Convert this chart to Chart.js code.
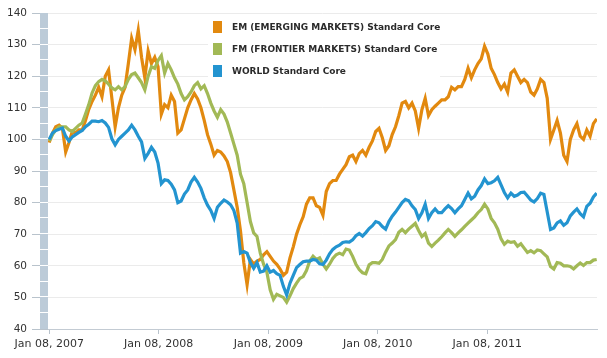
<!DOCTYPE html>
<html><head><meta charset="utf-8">
<script src="https://cdn.jsdelivr.net/npm/chart.js@4/dist/chart.umd.min.js"></script>
<style>
html,body{margin:0;padding:0;background:#fff;}
#wrap{position:relative;width:607px;height:358px;}
canvas{position:absolute;left:0;top:0;}
#legend{position:absolute;left:208px;top:15px;width:232px;height:68px;background:#fff;font:bold 9px "DejaVu Sans",sans-serif;color:#2b2b2b;}
.item{position:absolute;left:5px;height:12px;line-height:12px;white-space:nowrap;}
.sw{position:absolute;left:0;top:0;width:9px;height:12px;}
.lbl{position:absolute;left:19px;top:0;}
</style></head>
<body>
<div id="wrap">
<canvas id="c" width="607" height="358"></canvas>
<div id="legend"></div>
</div>
<script>
// ---- data ----
const seriesNames = ['EM (EMERGING MARKETS) Standard Core','FM (FRONTIER MARKETS) Standard Core','WORLD Standard Core'];
const seriesColors = ['#e2890f','#a2b956','#2394d0'];
const tickLabels = ['Jan 08, 2007','Jan 08, 2008','Jan 08, 2009','Jan 08, 2010','Jan 08, 2011'];
const tickDays = [0,365,731,1096,1461];   // days after Jan 08, 2007
const sampleStepDays = 11;                // one reading every 11 days, starting Jan 08, 2007

const em = [99,102,104,104.5,103.5,96,99,102.5,102,103,
 103,106,109.5,112,114,116.5,113.5,120,122,113,
 104,110,114,116.5,124,132,128.4,134.5,126,119.5,
 128,124,126,123,108,111,110,114,112,102,
 103,106.5,110,112.5,114.5,112.8,110,106,101.5,98.5,
 95,96.5,96,94.8,93,89.5,84,78.5,71,61,
 54,62,60.5,61.5,62,63.5,64.5,63,61.5,60.5,
 59,57,58,62.5,66,70,73,75.5,79.5,81.5,
 81.5,79,78.5,76,83.5,86,87,87,89,90.5,
 92,94.5,95,93,95.5,96.5,95,97.5,99.5,102.5,
 103.5,100.5,96.5,98,101.5,104,107.5,111.5,112,110,
 111.5,109,103.5,109.4,113,107.5,109.4,110.5,111.5,112.5,
 112.5,113.5,116.5,115.7,116.7,116.7,119,122.5,119.5,122,
 124,125.5,129.5,127,122.5,120.5,118,116,117.5,115,
 121,122,120,118,119,118,115,114,116,119,
 118,113,100,103,106,102,95,93,100,103,
 105,101,100,103,101,105,106.5];

const fm = [99.5,101.5,103,104,104,104,103,102.5,103.5,104.5,
 105.2,108,111,114.7,117,118.3,119,118.5,117.5,116.3,
 115.7,116.7,115.7,116.7,119,120.5,121,119.5,118,115.7,
 120,123,122.5,125,126.5,121,124,122,119.5,117.5,
 114.5,112.5,113.5,115,117,118,116,117,114.5,111.5,
 109,107,109.4,108,105.5,102,98.5,95,89,86,
 80,74,70.4,69.3,64,60.5,58,52.4,49.4,51,
 50.5,50,48.5,50.5,52.8,54.5,56,56.6,58.5,61.5,
 63,62,62.5,60.5,59,60.5,62.3,63.5,64,63.5,
 65.3,65,63,60.5,58.8,57.8,57.5,60.3,61,61,
 60.8,62,64.3,66.3,67.2,68.3,70.6,71.5,70.5,71.6,
 72.5,73.4,71.2,69.3,70.2,67.2,66.1,67.2,68.1,69.2,
 70.4,71.5,70.5,69.3,70.4,71.4,72.5,73.5,74.5,75.5,
 76.8,77.8,79.5,78,75,73.6,71.6,68.5,66.8,67.8,
 67.4,67.6,66.2,67,65.6,64.2,64.8,64.1,65,64.8,
 63.8,62.8,59.8,59,61,60.8,60,60,59.8,59,
 60,60.9,60.1,61,61,61.8,62];

const world = [100,102,102.8,103.2,103.6,101,99.5,100.8,101.5,102.2,
 102.8,104,104.8,105.8,105.8,105.6,106,105.2,103.8,100.2,
 98.3,100,101,102,103,104.5,103,101,99.2,94,
 95.6,97.5,96,92.5,86,87.2,87,85.8,84,80,
 80.5,82.7,84,86.5,88,86.5,84.5,81.5,79.2,77.5,
 75,78.5,79.8,80.8,80.2,79.3,77.5,73.5,64,64.5,
 64,61,59.2,61,58,58.3,60,58,58.5,57.5,
 57,53.5,50.8,54.5,57,59.4,60.4,61.3,61.5,61.5,
 62,61.8,60.6,60.4,61.8,63.8,65.2,66,66.5,67.4,
 67.6,67.5,68.2,69.5,70.2,69.4,70.5,71.8,72.7,74,
 73.6,72.4,71.6,74,75.7,77,78.5,80,81,80.6,
 79,77.8,75,76.8,79.5,75,76.8,78,76.8,76.8,
 78,79,78.1,76.8,78,79,81,83,81.2,82,
 84,85.4,87.5,86,86.3,86.9,88,85.6,83.2,81.5,
 83,82,82.4,83.2,83.3,82.1,80.8,80.2,81.3,83,
 82.6,77,71.5,72,73.6,74.2,72.8,73.6,75.8,77,
 78,76.5,75.5,78.8,79.8,81.8,83];

const seriesValues = [em, fm, world];
const days = em.map((_, i) => i * sampleStepDays);

// ---- legend (real text) ----
const legend = document.getElementById('legend');
seriesNames.forEach((n, i) => {
  const it = document.createElement('div');
  it.className = 'item';
  it.style.top = (6 + i * 22) + 'px';
  it.innerHTML = '<div class="sw" style="background:' + seriesColors[i] + '"></div><div class="lbl"></div>';
  it.querySelector('.lbl').textContent = n;
  legend.appendChild(it);
});

// ---- left segmented band ----
const bandPlugin = {
  id: 'band',
  afterDraw(c) {
    const y = c.scales.y, ctx = c.ctx, ca = c.chartArea;
    const top = y.getPixelForValue(y.max), bot = y.getPixelForValue(y.min);
    ctx.save();
    ctx.fillStyle = '#bccbd8';
    ctx.fillRect(ca.left - 8, top, 8, bot - top);
    ctx.fillStyle = '#ffffff';
    for (let v = y.min + 5; v < y.max; v += 5) {
      const p = Math.round(y.getPixelForValue(v));
      ctx.fillRect(ca.left - 8, p - 1, 8, 1);
    }
    ctx.restore();
  }
};

new Chart(document.getElementById('c'), {
  type: 'line',
  data: {
    datasets: seriesValues.map((vals, s) => ({
      label: seriesNames[s],
      data: vals.map((v, i) => ({ x: days[i], y: v })),
      borderColor: seriesColors[s],
      backgroundColor: seriesColors[s],
      borderWidth: 3.2,
      pointRadius: 0,
      tension: 0,
      fill: false,
      order: 3 - s
    }))
  },
  options: {
    responsive: false,
    animation: false,
    layout: { padding: { top: 13, right: 10, left: 0, bottom: 0 } },
    plugins: { legend: { display: false }, tooltip: { enabled: false } },
    scales: {
      x: {
        type: 'linear',
        min: -4, max: 1827,
        afterBuildTicks: s => { s.ticks = tickDays.map(v => ({ value: v })); },
        afterFit: s => { s.height = 29; },
        ticks: {
          autoSkip: false, maxRotation: 0, minRotation: 0,
          callback: v => tickLabels[tickDays.indexOf(v)],
          font: { family: 'DejaVu Sans', size: 11 }, color: '#333333', padding: 4
        },
        grid: { drawOnChartArea: false, tickLength: 5, tickColor: '#b9c3cc' },
        border: { color: '#c3cbd3', width: 1 }
      },
      y: {
        min: 40, max: 140,
        afterFit: s => { s.width = 48; },
        ticks: { stepSize: 10, font: { family: 'DejaVu Sans', size: 10.5 }, color: '#333333', padding: 5 },
        grid: { color: '#ebebeb', tickLength: 16, tickColor: '#b9c3cc' },
        border: { display: false }
      }
    }
  },
  plugins: [bandPlugin]
});
</script>
</body></html>
